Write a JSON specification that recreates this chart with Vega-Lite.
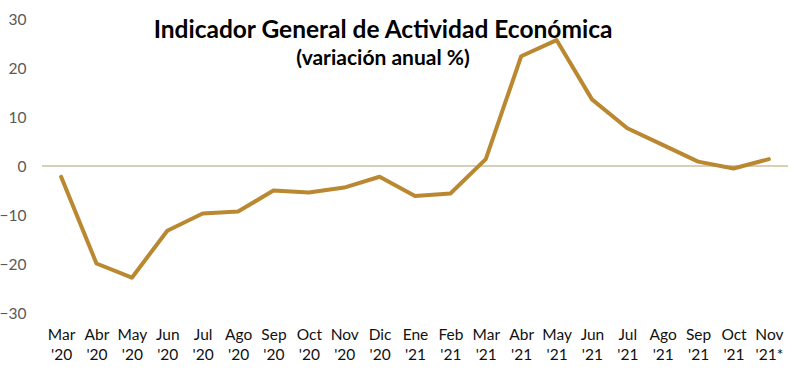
{
  "$schema": "https://vega.github.io/schema/vega-lite/v6.json",
  "autosize": {"type": "none"},
  "width": 746,
  "height": 294,
  "padding": {"left": 42, "top": 19, "right": 6, "bottom": 65},
  "background": "white",
  "config": {"view": {"stroke": null}, "font": "Lato"},
  "title": {
    "text": "Indicador General de Actividad Económica",
    "subtitle": "(variación anual %)",
    "anchor": "middle",
    "frame": "group",
    "orient": "top",
    "offset": 0,
    "dx": -32,
    "dy": 58,
    "font": "Lato",
    "fontSize": 24.5,
    "fontWeight": "bold",
    "color": "#000000",
    "subtitleFont": "Lato",
    "subtitleFontSize": 21,
    "subtitleFontWeight": "bold",
    "subtitleColor": "#000000",
    "subtitlePadding": 5
  },
  "data": {
    "values": [
      {"mes": "Mar '20", "v": -2.2},
      {"mes": "Abr '20", "v": -19.9},
      {"mes": "May '20", "v": -22.8},
      {"mes": "Jun '20", "v": -13.2},
      {"mes": "Jul '20", "v": -9.7},
      {"mes": "Ago '20", "v": -9.3},
      {"mes": "Sep '20", "v": -5.0},
      {"mes": "Oct '20", "v": -5.4},
      {"mes": "Nov '20", "v": -4.4},
      {"mes": "Dic '20", "v": -2.2},
      {"mes": "Ene '21", "v": -6.1},
      {"mes": "Feb '21", "v": -5.6},
      {"mes": "Mar '21", "v": 1.4},
      {"mes": "Abr '21", "v": 22.4},
      {"mes": "May '21", "v": 25.7},
      {"mes": "Jun '21", "v": 13.6},
      {"mes": "Jul '21", "v": 7.7},
      {"mes": "Ago '21", "v": 4.3},
      {"mes": "Sep '21", "v": 0.9},
      {"mes": "Oct '21", "v": -0.5},
      {"mes": "Nov '21*", "v": 1.4}
    ]
  },
  "layer": [
    {
      "mark": {"type": "rule", "color": "#D6CFB8", "strokeWidth": 1},
      "encoding": {"y": {"datum": 0, "type": "quantitative"}}
    },
    {
      "mark": {"type": "line", "color": "#B98830", "strokeWidth": 4, "strokeCap": "round", "strokeJoin": "round"},
      "encoding": {
        "x": {
          "field": "mes",
          "type": "ordinal",
          "sort": null,
          "scale": {"type": "point", "padding": 0.54},
          "axis": {
            "title": null,
            "domain": false,
            "ticks": false,
            "labelAngle": 0,
            "labelPadding": 14,
            "labelFontSize": 15.5,
            "labelColor": "#111111",
            "labelLineHeight": 20,
            "labelExpr": "split(datum.label, ' ')"
          }
        },
        "y": {
          "field": "v",
          "type": "quantitative",
          "scale": {"domain": [-30, 30], "nice": false, "zero": false},
          "axis": {
            "title": null,
            "domain": false,
            "ticks": false,
            "grid": false,
            "values": [-30, -20, -10, 0, 10, 20, 30],
            "labelPadding": 16,
            "labelFontSize": 15.5,
            "labelColor": "#595959"
          }
        }
      }
    }
  ]
}
